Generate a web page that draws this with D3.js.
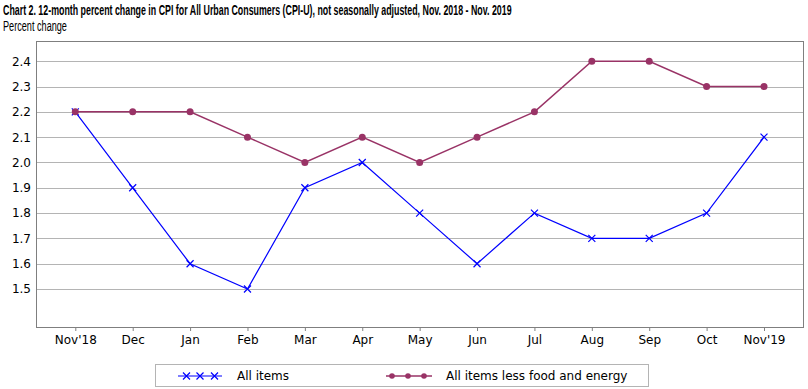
<!DOCTYPE html>
<html><head><meta charset="utf-8">
<script src="https://cdn.jsdelivr.net/npm/d3@7"></script>
<style>body{margin:0;background:#fff}svg{display:block}</style>
</head><body>
<svg id="c" width="808" height="389"></svg>
<script>
const months = ["Nov'18","Dec","Jan","Feb","Mar","Apr","May","Jun","Jul","Aug","Sep","Oct","Nov'19"];
const allItems = [2.2,1.9,1.6,1.5,1.9,2.0,1.8,1.6,1.8,1.7,1.7,1.8,2.1];
const coreItems = [2.2,2.2,2.2,2.1,2.0,2.1,2.0,2.1,2.2,2.4,2.4,2.3,2.3];
const yTicks = [1.5,1.6,1.7,1.8,1.9,2.0,2.1,2.2,2.3,2.4];
const seriesNames = ["All items","All items less food and energy"];

const svg = d3.select("#c");
const L=36, R=803, T=41, B=327;
const x = d3.scalePoint().domain(months).range([75.3,764]);
const y = d3.scaleLinear().domain([1.35,2.48]).range([B,T]);
const font = "DejaVu Sans, Verdana, sans-serif";
const tfont = "Liberation Sans Narrow, Arial Narrow, Liberation Sans, Arial, sans-serif";

function condensed(txt, x0, y0, size, weight, width){
  const g = svg.append("g");
  const t = g.append("text").attr("x",0).attr("y",0).attr("font-family",tfont)
    .attr("font-weight",weight).attr("font-size",size).attr("fill","#000").text(txt);
  const w = t.node().getComputedTextLength();
  g.attr("transform",`translate(${x0},${y0}) scale(${width/w},1)`);
}
condensed("Chart 2. 12-month percent change in CPI for All Urban Consumers (CPI-U), not seasonally adjusted, Nov. 2018 - Nov. 2019", 3, 15, 14.5, "bold", 509);
condensed("Percent change", 3, 30.5, 14.5, "normal", 64);

// gridlines
svg.append("g").selectAll("line").data(yTicks).join("line")
  .attr("x1",L).attr("x2",R).attr("y1",d=>Math.round(y(d))+0.5).attr("y2",d=>Math.round(y(d))+0.5)
  .attr("stroke","#b4b4b4").attr("stroke-width",1);

// y axis labels
const ya = svg.append("g").attr("transform",`translate(${L},0)`)
  .call(d3.axisLeft(y).tickValues(yTicks).tickFormat(d3.format(".1f")).tickSize(0).tickPadding(5));
ya.select(".domain").remove();
ya.selectAll("text").attr("font-family",font).attr("font-size",12).attr("fill","#000");

// x axis
const xa = svg.append("g").attr("transform",`translate(0,${B})`)
  .call(d3.axisBottom(x).tickSize(4).tickPadding(4));
xa.select(".domain").remove();
xa.selectAll("line").attr("stroke","#808080");
xa.selectAll("text").attr("font-family",font).attr("font-size",12).attr("fill","#000");

// border
svg.append("rect").attr("x",L+0.5).attr("y",T+0.5).attr("width",R-L).attr("height",B-T)
  .attr("fill","none").attr("stroke","#7f7f7f").attr("stroke-width",1);

const line = d3.line().x((d,i)=>x(months[i])).y(d=>y(d));
const blue="#0000ff", plum="#993366";

// all items
svg.append("path").datum(allItems).attr("d",line).attr("fill","none").attr("stroke",blue).attr("stroke-width",1.2);
function xMark(g, cx, cy){
  const s=3.5;
  g.append("path").attr("d",`M${cx-s},${cy-s}L${cx+s},${cy+s}M${cx-s},${cy+s}L${cx+s},${cy-s}`)
    .attr("stroke",blue).attr("stroke-width",1.2).attr("fill","none");
}
const gA = svg.append("g");
allItems.forEach((v,i)=>xMark(gA, x(months[i]), y(v)));

// core
svg.append("path").datum(coreItems).attr("d",line).attr("fill","none").attr("stroke",plum).attr("stroke-width",1.5);
svg.append("g").selectAll("circle").data(coreItems).join("circle")
  .attr("cx",(d,i)=>x(months[i])).attr("cy",d=>y(d)).attr("r",3.5).attr("fill",plum);

// legend
const lg = svg.append("g");
lg.append("rect").attr("x",155.5).attr("y",364.5).attr("width",493).attr("height",22)
  .attr("fill","#fff").attr("stroke","#b4b4b4");
const ly=376;
lg.append("line").attr("x1",178).attr("x2",222).attr("y1",ly).attr("y2",ly).attr("stroke",blue).attr("stroke-width",1.2);
[186.5,200,214.5].forEach(cx=>xMark(lg,cx,ly));
lg.append("text").attr("x",237).attr("y",ly).attr("dy","0.35em").attr("font-family",font).attr("font-size",12).text(seriesNames[0]);
lg.append("line").attr("x1",386).attr("x2",432).attr("y1",ly).attr("y2",ly).attr("stroke",plum).attr("stroke-width",1.5);
[392,408,424].forEach(cx=>lg.append("circle").attr("cx",cx).attr("cy",ly).attr("r",2.8).attr("fill",plum));
lg.append("text").attr("x",446).attr("y",ly).attr("dy","0.35em").attr("font-family",font).attr("font-size",12).text(seriesNames[1]);
</script>
</body></html>
